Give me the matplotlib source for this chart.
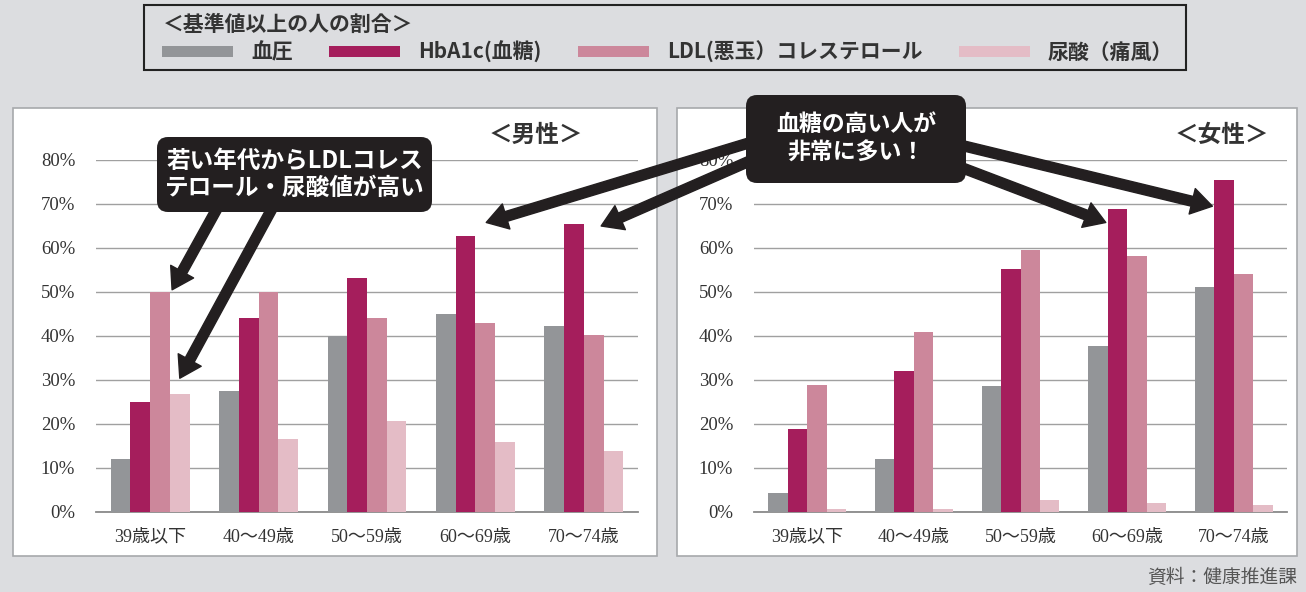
import numpy as np
import matplotlib
matplotlib.use("Agg")
import matplotlib.pyplot as plt
from matplotlib.patches import Rectangle, Patch, FancyBboxPatch
from matplotlib.text import Annotation
from matplotlib.transforms import IdentityTransform

plt.rcParams['font.family'] = ['Noto Sans CJK JP', 'DejaVu Sans']

# データ（％）
age_groups = ['39歳以下', '40～49歳', '50～59歳', '60～69歳', '70～74歳']
series_names = ['血圧', 'HbA1c(血糖)', 'LDL(悪玉）コレステロール', '尿酸（痛風）']
colors = ['#939598', '#a51e5c', '#cc879b', '#e4bcc6']

male_bp = [12.0, 27.6, 40.1, 45.1, 42.2]
male_hba1c = [24.9, 44.2, 53.2, 62.8, 65.5]
male_ldl = [50.0, 50.0, 44.1, 43.0, 40.3]
male_uric = [26.9, 16.7, 20.7, 15.9, 13.9]

female_bp = [4.4, 12.1, 28.6, 37.7, 51.2]
female_hba1c = [18.9, 32.1, 55.2, 68.8, 75.5]
female_ldl = [28.9, 41.0, 59.5, 58.1, 54.0]
female_uric = [0.6, 0.6, 2.7, 2.0, 1.7]

y_ticks = [0, 10, 20, 30, 40, 50, 60, 70, 80]

W, H = 1306, 592
bg = '#dcdde0'
dark = '#231f20'
fig = plt.figure(figsize=(W / 100, H / 100), dpi=100, facecolor=bg)


def fx(x):
    return x / W


def fy(y):
    return 1 - y / H


def box(x0, y0, x1, y1):
    return [fx(x0), fy(y1), fx(x1 - x0), (y1 - y0) / H]


# 白いパネル
for x0, x1 in [(13, 657), (677, 1297)]:
    fig.add_artist(Rectangle((fx(x0), fy(556)), fx(x1 - x0), (556 - 108) / H,
                             transform=fig.transFigure, facecolor='white',
                             edgecolor='#a7a9ac', lw=1.2, zorder=-1))

bw = 0.182
offsets = np.array([-1.5, -0.5, 0.5, 1.5]) * bw
x = np.arange(len(age_groups))


def draw_panel(ax, data, title, title_x):
    for i, vals in enumerate(data):
        ax.bar(x + offsets[i], vals, width=bw, color=colors[i], zorder=3)
    ax.set_xlim(-0.5, len(age_groups) - 0.5)
    ax.set_ylim(0, 80)
    ax.set_yticks(y_ticks)
    ax.set_yticklabels([f'{t}%' for t in y_ticks], family='Liberation Serif',
                       fontsize=13.5, color='#333333')
    ax.set_xticks(x)
    ax.set_xticklabels(age_groups, family=['Liberation Serif', 'Noto Sans CJK JP'],
                       fontsize=13, color='#333333')
    ax.tick_params(axis='y', length=0, pad=15)
    ax.tick_params(axis='x', length=0, pad=12)
    ax.grid(axis='y', color='#a0a0a0', lw=1, zorder=0)
    for s in ['top', 'right', 'left']:
        ax.spines[s].set_visible(False)
    ax.spines['bottom'].set_color('#8a8a8a')
    ax.spines['bottom'].set_linewidth(1.3)
    fig.text(fx(title_x), fy(135), title, fontsize=17, fontweight='bold',
             color='#333333', ha='center', va='center')


ax1 = fig.add_axes(box(96, 160, 638, 512))
ax2 = fig.add_axes(box(754, 160, 1287, 512))
draw_panel(ax1, [male_bp, male_hba1c, male_ldl, male_uric], '＜男性＞', 536)
draw_panel(ax2, [female_bp, female_hba1c, female_ldl, female_uric], '＜女性＞', 1222)

# 凡例
fig.add_artist(Rectangle((fx(144), fy(70)), fx(1186 - 144), 65 / H,
                         transform=fig.transFigure, facecolor='none',
                         edgecolor='#222222', lw=1.5))
fig.text(fx(163), fy(24), '＜基準値以上の人の割合＞', fontsize=15,
         fontweight='bold', color='#333333', ha='left', va='center')
handles = [Patch(facecolor=c, edgecolor='none') for c in colors]
leg = fig.legend(handles, series_names, ncol=4, loc='center left',
                 bbox_to_anchor=(fx(162), fy(52)), frameon=False,
                 prop={'size': 15, 'weight': 'bold'},
                 handlelength=3.4, handleheight=0.45,
                 handletextpad=0.87, columnspacing=1.75, borderpad=0,
                 borderaxespad=0)
for t in leg.get_texts():
    t.set_color('#333333')

# 矢印
arrow_kw = dict(arrowstyle='simple,head_length=1.15,head_width=1.45,tail_width=0.55',
                fc=dark, ec=dark, mutation_scale=13, shrinkA=0, shrinkB=0)


def arrow(ax, xy, start):
    a = Annotation('', xy=xy, xycoords=ax.transData,
                   xytext=(start[0], H - start[1]), textcoords='figure pixels',
                   arrowprops=arrow_kw, annotation_clip=False)
    a.set_zorder(4)
    fig.add_artist(a)


arrow(ax1, (bw + 0.02, male_ldl[0] + 0.5), (219, 205))
arrow(ax1, (1.5 * bw, male_uric[0] + 3.5), (274, 205))
arrow(ax1, (3.1, male_hba1c[3] + 3), (752, 142))
arrow(ax1, (4.16, male_hba1c[4] - 0.5), (752, 160))
arrow(ax2, (2.8, female_hba1c[3] - 3), (960, 167))
arrow(ax2, (3.8, female_hba1c[4] - 6), (960, 145))


# 吹き出し
def callout(x0, y0, x1, y1, text, size, spacing):
    fig.add_artist(FancyBboxPatch((x0, H - y1), x1 - x0, y1 - y0,
                                  boxstyle='round,pad=0,rounding_size=11',
                                  transform=IdentityTransform(), fc=dark,
                                  ec='none', zorder=5))
    fig.text(fx((x0 + x1) / 2), fy((y0 + y1) / 2), text, fontsize=size,
             fontweight='bold', color='white', ha='center', va='center',
             linespacing=spacing, zorder=6)


callout(157, 137, 432, 212, '若い年代からLDLコレス\nテロール・尿酸値が高い', 17, 1.2)
callout(746, 95, 966, 183, '血糖の高い人が\n非常に多い！', 16.5, 1.3)

fig.text(fx(1297), fy(577), '資料：健康推進課', fontsize=13.5, color='#555555',
         ha='right', va='center')

fig.savefig('out.png', dpi=100, facecolor=bg)
